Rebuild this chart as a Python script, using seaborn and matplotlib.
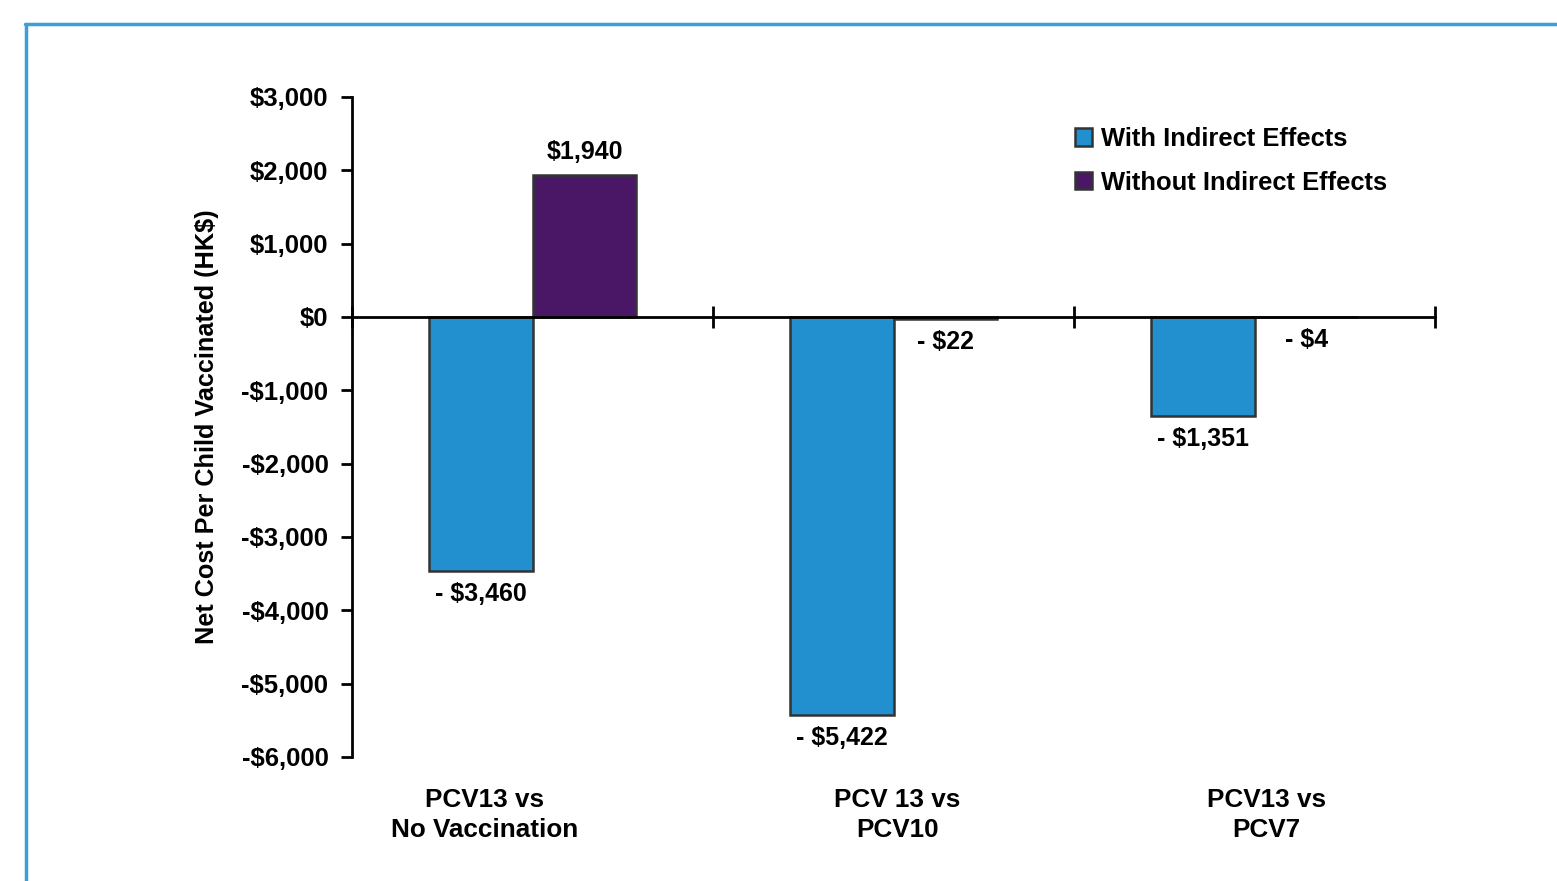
import matplotlib
matplotlib.use("Agg")
import matplotlib.pyplot as plt
import matplotlib.transforms as mtransforms
from matplotlib.lines import Line2D
from matplotlib.patches import Patch
import seaborn as sns
import pandas as pd

categories = ["PCV13 vs\nNo Vaccination", "PCV 13 vs\nPCV10", "PCV13 vs\nPCV7"]
series_names = ["With Indirect Effects", "Without Indirect Effects"]
with_indirect = [-3460, -5422, -1351]
without_indirect = [1940, -22, -4]
y_ticks = [3000, 2000, 1000, 0, -1000, -2000, -3000, -4000, -5000, -6000]

colors = ["#2290CF", "#4A1766"]

sns.set_theme(style="white")
FAM = ["Liberation Sans", "DejaVu Sans"]
plt.rcParams["font.family"] = FAM
plt.rcParams["font.weight"] = "bold"
for k in ["text.color", "axes.labelcolor", "xtick.color", "ytick.color"]:
    plt.rcParams[k] = "black"

df = pd.DataFrame({
    "Comparison": categories * 2,
    "Series": [series_names[0]] * 3 + [series_names[1]] * 3,
    "Value": with_indirect + without_indirect,
})

fig = plt.figure(figsize=(15.57, 8.81), dpi=100)
ax = fig.add_axes([352 / 1557, 1 - 757 / 881, (1435 - 352) / 1557, (757 - 97) / 881])

sns.barplot(data=df, x="Comparison", y="Value", hue="Series", order=categories,
            hue_order=series_names, palette=colors, saturation=1, width=0.576,
            edgecolor="#333333", linewidth=1.8, errorbar=None, ax=ax, legend=False)

ax.set_ylim(-6000, 3000)
ax.set_xlim(-0.5, 2.5)
ax.set_yticks(y_ticks)
ax.set_yticklabels([("-$" if v < 0 else "$") + f"{abs(v):,}" for v in y_ticks],
                   fontsize=18.5, fontweight="bold")
ax.tick_params(axis="y", direction="out", length=8, width=2, color="black", pad=9, left=True)

ax.spines["top"].set_visible(False)
ax.spines["right"].set_visible(False)
ax.spines["left"].set_linewidth(2)
ax.spines["left"].set_color("black")
ax.spines["bottom"].set_position(("data", 0))
ax.spines["bottom"].set_linewidth(2)
ax.spines["bottom"].set_color("black")
ax.set_xticks([-0.5, 0.5, 1.5, 2.5])
ax.set_xticklabels([])
ax.tick_params(axis="x", direction="inout", length=16, width=2, color="black", bottom=True)
ax.set_xlabel("")
ax.set_ylabel("Net Cost Per Child Vaccinated (HK$)", fontsize=18.2, fontweight="bold",
              labelpad=16)

# category labels under the plot area
trans = mtransforms.blended_transform_factory(ax.transData, ax.transAxes)
label_offsets = [-0.133, 0.01, 0.033]
for i, (cat, off) in enumerate(zip(categories, label_offsets)):
    ax.text(i + off, -0.047, cat, transform=trans, ha="center", va="top",
            fontsize=18.8, fontweight="bold", linespacing=1.33)

# value labels
def fmt(v):
    return (f"- ${abs(v):,}" if v < 0 else f"${v:,}")

for cont, vals in zip(ax.containers, [with_indirect, without_indirect]):
    ax.bar_label(cont, labels=[fmt(v) for v in vals], padding=8,
                 fontsize=18, fontweight="bold")

handles = [Patch(facecolor=c, edgecolor="#333333", linewidth=1.8) for c in colors]
fig.legend(handles, series_names, loc="upper left",
           bbox_to_anchor=(1052 / 1557, 1 - 104 / 881), frameon=False,
           handlelength=0.65, handleheight=0.65, handletextpad=0.35,
           labelspacing=0.78, prop={"weight": "bold", "size": 18.4})

# light blue frame
frame_color = "#3AA0DC"
fig.add_artist(Line2D([25 / 1557, 1.0], [1 - 24 / 881, 1 - 24 / 881],
                      transform=fig.transFigure, color=frame_color, linewidth=2.5))
fig.add_artist(Line2D([26 / 1557, 26 / 1557], [1 - 24 / 881, 0.0],
                      transform=fig.transFigure, color=frame_color, linewidth=2.5))

fig.savefig("out.png", dpi=100, facecolor="white")
